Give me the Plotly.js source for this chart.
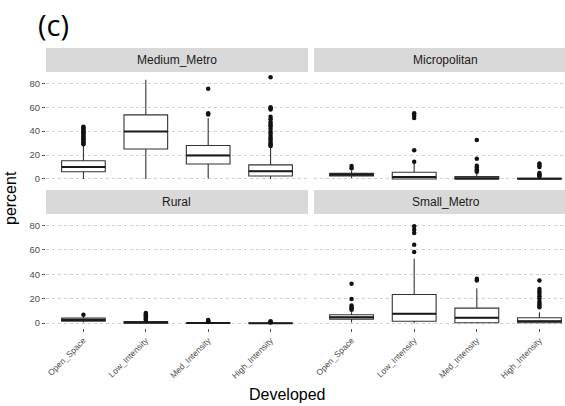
<!DOCTYPE html>
<html>
<head>
<meta charset="utf-8">
<script src="https://cdn.plot.ly/plotly-3.0.1.min.js"></script>
<style>
html,body{margin:0;padding:0;overflow:hidden;background:#fff;}
#chart{width:578px;height:406px;}
</style>
</head>
<body>
<div id="chart"></div>
<script>
const categories = ["Open_Space","Low_Intensity","Med_Intensity","High_Intensity"];
const panelNames = ["Medium_Metro","Micropolitan","Rural","Small_Metro"];
// per category: [lower whisker, q1, median, q3, upper whisker]
const mediumMetroStats = [[0,6.1,10,15.3,28],[0,25,39.7,53.6,83],[0.5,12.5,19.7,28,51],[0,2.5,6.5,11.8,26.5]];
const micropolitanStats = [[0.8,2.5,3.5,4.7,7],[0,0,1.7,5.6,14],[0,0,0.5,2,5],[0,0,0.1,0.5,1]];
const ruralStats = [[0.5,1.6,2.7,4.1,5.5],[0,0,0.5,1.4,2],[0,0,0.1,0.3,0.6],[0,0,0,0.1,0.2]];
const smallMetroStats = [[0.5,3.3,4.9,6.9,9],[0,1.6,7.7,23.5,52.8],[0,0.3,4.4,12.3,28.7],[0,0.3,1.6,4.4,9]];
// outliers per category
const mediumMetroOutliers = [
  [29,30,31,32,33,34,35,36,37,38,39,40,41,42,43,43.6],
  [],
  [54,55,75.5],
  [27.5,28.5,29.5,31,32.5,34,36,38,39.5,42,44,45.5,47.5,50,52,58,59,60,85]
];
const micropolitanOutliers = [[8.9,10.8],[14.5,24,51,53,55],[6,7,8,9.5,11,17,32.5],[2,3,4,5,10,11.5,13]];
const ruralOutliers = [[6.9],[2.5,3.5,4.5,5.5,6.5,7.5,8.3],[1,1.5,2,2.5],[0.5,1,1.5]];
const smallMetroOutliers = [[11,12,13,14.5,19.7,32.3],[58.2,64.3,73.8,76.5,79.3],[35,36.4],[13,14.5,16,17.5,20,22,24,26,28,35]];
const yTickVals = [0,20,40,60,80];

const allStats = [mediumMetroStats, micropolitanStats, ruralStats, smallMetroStats];
const allOutliers = [mediumMetroOutliers, micropolitanOutliers, ruralOutliers, smallMetroOutliers];

const FONT = "'Liberation Sans', Arial, Helvetica, sans-serif";
const W = 578, H = 406;
const colX = [[46,308],[314,577]];
const rowY = [[73,184],[215,328.3]];
const stripY = [[48,72],[190,214]];
const px = v => v / W;
const py = v => 1 - v / H;

const traces = [];
const layout = {
  width: W, height: H,
  margin: {l:0, r:0, t:0, b:0},
  paper_bgcolor: '#fff', plot_bgcolor: '#fff',
  showlegend: false,
  font: {family: FONT, color: '#1a1a1a'},
  shapes: [], annotations: []
};

for (let p = 0; p < 4; p++) {
  const r = Math.floor(p / 2), c = p % 2;
  const ax = p === 0 ? '' : String(p + 1);
  const st = allStats[p];
  traces.push({
    type: 'box', xaxis: 'x' + ax, yaxis: 'y' + ax,
    x: categories,
    lowerfence: st.map(s => s[0]), q1: st.map(s => s[1]), median: st.map(s => s[2]),
    q3: st.map(s => s[3]), upperfence: st.map(s => s[4]),
    boxpoints: false, width: 0.7, whiskerwidth: 0,
    fillcolor: '#ffffff', line: {color: '#333333', width: 1.1},
    hoverinfo: 'skip'
  });
  // thicker median bar (ggplot style)
  traces.push({
    type: 'box', xaxis: 'x' + ax, yaxis: 'y' + ax,
    x: categories,
    lowerfence: st.map(s => s[2]), q1: st.map(s => s[2]), median: st.map(s => s[2]),
    q3: st.map(s => s[2]), upperfence: st.map(s => s[2]),
    boxpoints: false, width: 0.7, whiskerwidth: 0,
    fillcolor: 'rgba(0,0,0,0)', line: {color: '#1a1a1a', width: 2},
    hoverinfo: 'skip'
  });
  const ox = [], oy = [];
  allOutliers[p].forEach((arr, i) => arr.forEach(v => { ox.push(categories[i]); oy.push(v); }));
  traces.push({
    type: 'scatter', mode: 'markers', xaxis: 'x' + ax, yaxis: 'y' + ax,
    x: ox, y: oy, marker: {color: '#111', size: 4.5}, hoverinfo: 'skip'
  });
  layout['xaxis' + ax] = {
    domain: [px(colX[c][0]), px(colX[c][1])],
    anchor: 'y' + ax, type: 'category', categoryarray: categories,
    range: [-0.6, 3.6], showgrid: false, zeroline: false, showline: false,
    showticklabels: r === 1, ticks: r === 1 ? 'outside' : '', ticklen: 3, tickcolor: '#555', tickwidth: 1,
    tickangle: -45, tickfont: {size: 8.5, color: '#4d4d4d', family: FONT}, fixedrange: true
  };
  layout['yaxis' + ax] = {
    domain: [py(rowY[r][1]), py(rowY[r][0])],
    anchor: 'x' + ax, range: [-4.2, 88.6], tickvals: yTickVals,
    showgrid: true, gridcolor: '#cfcfcf', gridwidth: 1, griddash: 'dot',
    zeroline: false, showline: false,
    showticklabels: c === 0, ticks: c === 0 ? 'outside' : '', ticklen: 3, tickcolor: '#555', tickwidth: 1,
    tickfont: {size: 9.5, color: '#4d4d4d', family: FONT}, fixedrange: true
  };
  layout.shapes.push({
    type: 'rect', xref: 'paper', yref: 'paper', layer: 'below',
    x0: px(colX[c][0]), x1: px(colX[c][1]), y0: py(stripY[r][1]), y1: py(stripY[r][0]),
    fillcolor: '#d9d9d9', line: {width: 0}
  });
  layout.annotations.push({
    xref: 'paper', yref: 'paper', showarrow: false,
    x: px((colX[c][0] + colX[c][1]) / 2), y: py((stripY[r][0] + stripY[r][1]) / 2),
    xanchor: 'center', yanchor: 'middle', text: panelNames[p],
    font: {size: 12, color: '#1a1a1a', family: FONT}
  });
}

layout.annotations.push({
  xref: 'paper', yref: 'paper', showarrow: false, x: px(11), y: py(198),
  xanchor: 'center', yanchor: 'middle', textangle: -90, text: 'percent',
  font: {size: 16, color: '#000', family: FONT}
});
layout.annotations.push({
  xref: 'paper', yref: 'paper', showarrow: false, x: px(287), y: py(394),
  xanchor: 'center', yanchor: 'middle', text: 'Developed',
  font: {size: 16, color: '#000', family: FONT}
});
layout.annotations.push({
  xref: 'paper', yref: 'paper', showarrow: false, x: px(36), y: py(24),
  xanchor: 'left', yanchor: 'middle', text: '(c)',
  font: {size: 29, color: '#000', family: "'Open Sans', sans-serif", weight: 500}
});

Plotly.newPlot('chart', traces, layout, {displayModeBar: false, staticPlot: true});
</script>
</body>
</html>
